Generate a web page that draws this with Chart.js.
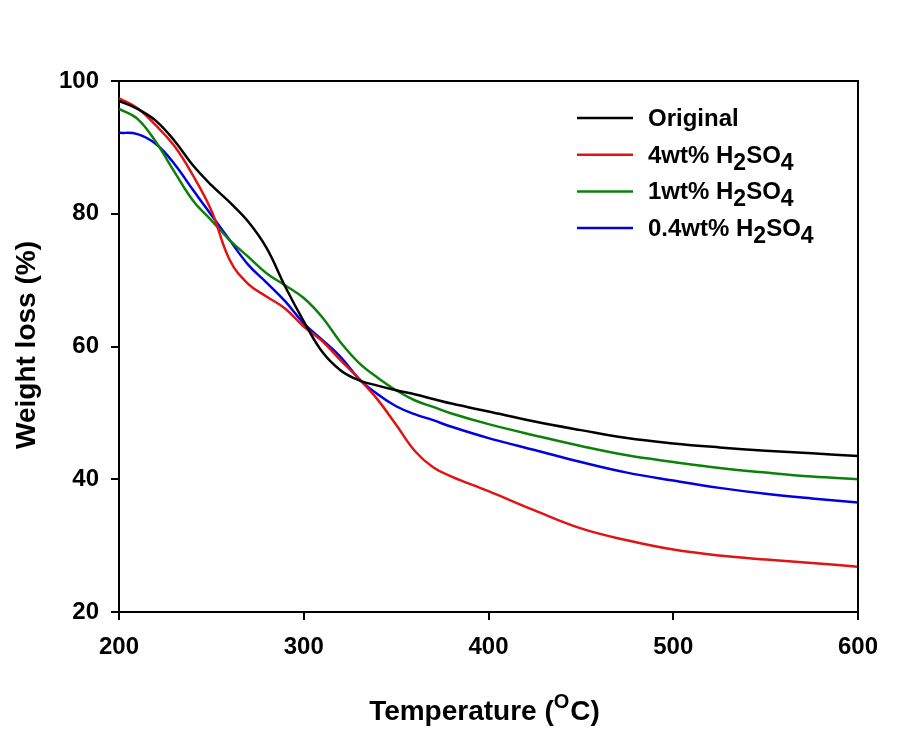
<!DOCTYPE html>
<html>
<head>
<meta charset="utf-8">
<script src="https://cdn.jsdelivr.net/npm/chart.js@4.4.1/dist/chart.umd.min.js"></script>
<style>
  html, body { margin: 0; padding: 0; background: #fff; }
  canvas { display: block; }
</style>
</head>
<body>
<canvas id="tgaChart" width="901" height="731"></canvas>
<script>
'use strict';

// ── Data
const temperature = [200, 210, 220, 230, 240, 250, 260, 270, 280, 290, 300, 310, 320, 330, 340, 350,
                     360, 370, 380, 400, 425, 450, 475, 500, 525, 550, 575, 600];

const original = [97.0, 95.8, 94.0, 91.0, 87.3, 84.3, 81.7, 78.8, 74.8, 69.0, 63.8, 59.2, 56.4, 54.9, 54.1, 53.4,
                  52.8, 52.1, 51.4, 50.2, 48.7, 47.4, 46.2, 45.4, 44.8, 44.3, 43.9, 43.5];
const acid4 = [97.4, 95.9, 93.3, 90.2, 85.8, 80.5, 73.0, 69.4, 67.5, 65.7, 63.0, 60.8, 57.9, 55.1, 52.0, 48.2,
               44.3, 41.8, 40.4, 38.2, 35.3, 32.6, 30.8, 29.4, 28.5, 27.9, 27.4, 26.8];
const acid1 = [95.8, 94.3, 90.8, 86.3, 82.0, 79.0, 76.0, 73.5, 71.0, 69.2, 67.3, 64.4, 60.6, 57.5, 55.3, 53.4,
               51.9, 50.9, 49.9, 48.3, 46.6, 45.0, 43.6, 42.6, 41.7, 41.0, 40.4, 40.0];
const acid04 = [92.2, 92.0, 90.5, 87.5, 83.6, 79.8, 76.0, 72.3, 69.6, 66.8, 63.5, 61.0, 58.4, 55.1, 52.8, 51.0,
                49.8, 48.9, 47.9, 46.2, 44.4, 42.6, 41.0, 39.8, 38.7, 37.8, 37.1, 36.5];

// "_" marks the next character as a subscript
const seriesLabels = ['Original', '4wt% H_2SO_4', '1wt% H_2SO_4', '0.4wt% H_2SO_4'];
const seriesColors = ['#000000', '#e01414', '#0a820a', '#0000e0'];
const xTicks = [200, 300, 400, 500, 600];
const yTicks = [20, 40, 60, 80, 100];

const FONT = "'Liberation Sans', Arial, sans-serif";

function toPoints(values) {
    return values.map((v, i) => ({ x: temperature[i], y: v }));
}

// draw text where "_c" is a subscript character
function drawRichText(ctx, text, x, y, size, subSize, subDrop) {
    let cx = x;
    for (let i = 0; i < text.length; i++) {
        let ch = text[i];
        if (ch === '_' && i + 1 < text.length) {
            ch = text[++i];
            ctx.font = `bold ${subSize}px ${FONT}`;
            ctx.fillText(ch, cx, y + subDrop);
        } else {
            ctx.font = `bold ${size}px ${FONT}`;
            ctx.fillText(ch, cx, y);
        }
        cx += ctx.measureText(ch).width;
    }
}

const framePlugin = {
    id: 'frame',
    afterDraw(chart) {
        const { ctx, chartArea: a } = chart;
        ctx.save();
        ctx.strokeStyle = '#000';
        ctx.lineWidth = 2;
        ctx.beginPath();
        ctx.moveTo(a.left, a.top);
        ctx.lineTo(a.right, a.top);
        ctx.lineTo(a.right, a.bottom);
        ctx.stroke();

        // legend
        ctx.textBaseline = 'alphabetic';
        chart.data.datasets.forEach((ds, i) => {
            const ly = 118 + i * 36.7;
            ctx.strokeStyle = ds.borderColor;
            ctx.lineWidth = 2.5;
            ctx.beginPath();
            ctx.moveTo(577, ly);
            ctx.lineTo(633, ly);
            ctx.stroke();
            ctx.fillStyle = '#000';
            drawRichText(ctx, seriesLabels[i], 648, ly + 8, 24, 23, 7);
        });

        // axis titles
        ctx.fillStyle = '#000';
        ctx.textAlign = 'left';
        ctx.font = `bold 28px ${FONT}`;
        const p1 = 'Temperature (', p2 = 'O', p3 = 'C)';
        const w1 = ctx.measureText(p1).width;
        const w3 = ctx.measureText(p3).width;
        ctx.font = `bold 20px ${FONT}`;
        const w2 = ctx.measureText(p2).width + 1;
        const cxTitle = (a.left + a.right) / 2 - 4;
        let tx = cxTitle - (w1 + w2 + w3) / 2;
        const ty = 720;
        ctx.font = `bold 28px ${FONT}`;
        ctx.fillText(p1, tx, ty);
        tx += w1;
        ctx.font = `bold 20px ${FONT}`;
        ctx.fillText(p2, tx, ty - 12);
        tx += w2;
        ctx.font = `bold 28px ${FONT}`;
        ctx.fillText(p3, tx, ty);

        ctx.save();
        ctx.translate(35, 345);
        ctx.rotate(-Math.PI / 2);
        ctx.textAlign = 'center';
        ctx.font = `bold 28px ${FONT}`;
        ctx.fillText('Weight loss (%)', 0, 0);
        ctx.restore();
        ctx.restore();
    }
};

new Chart(document.getElementById('tgaChart'), {
    type: 'line',
    data: {
        datasets: [original, acid4, acid1, acid04].map((vals, i) => ({
            label: seriesLabels[i].replace(/_/g, ''),
            data: toPoints(vals),
            borderColor: seriesColors[i],
            borderWidth: 2.5,
            pointRadius: 0,
            fill: false,
            tension: 0.4
        }))
    },
    options: {
        responsive: false,
        animation: false,
        layout: { padding: { top: 81, right: 43, left: 0, bottom: 0 } },
        plugins: {
            legend: { display: false },
            tooltip: { enabled: false }
        },
        scales: {
            x: {
                type: 'linear',
                min: 200,
                max: 600,
                afterFit: s => { s.height = 119; },
                afterBuildTicks: s => { s.ticks = xTicks.map(v => ({ value: v })); },
                grid: { drawOnChartArea: false, tickLength: 8, color: '#000', lineWidth: 2 },
                border: { display: true, color: '#000', width: 2 },
                ticks: { color: '#000', padding: 13, maxRotation: 0, font: { family: FONT, size: 24, weight: 'bold' } }
            },
            y: {
                type: 'linear',
                min: 20,
                max: 100,
                afterFit: s => { s.width = 119; },
                afterBuildTicks: s => { s.ticks = yTicks.map(v => ({ value: v })); },
                grid: { drawOnChartArea: false, tickLength: 8, color: '#000', lineWidth: 2 },
                border: { display: true, color: '#000', width: 2 },
                ticks: { color: '#000', padding: 12, font: { family: FONT, size: 24, weight: 'bold' } }
            }
        }
    },
    plugins: [framePlugin]
});
</script>
</body>
</html>
